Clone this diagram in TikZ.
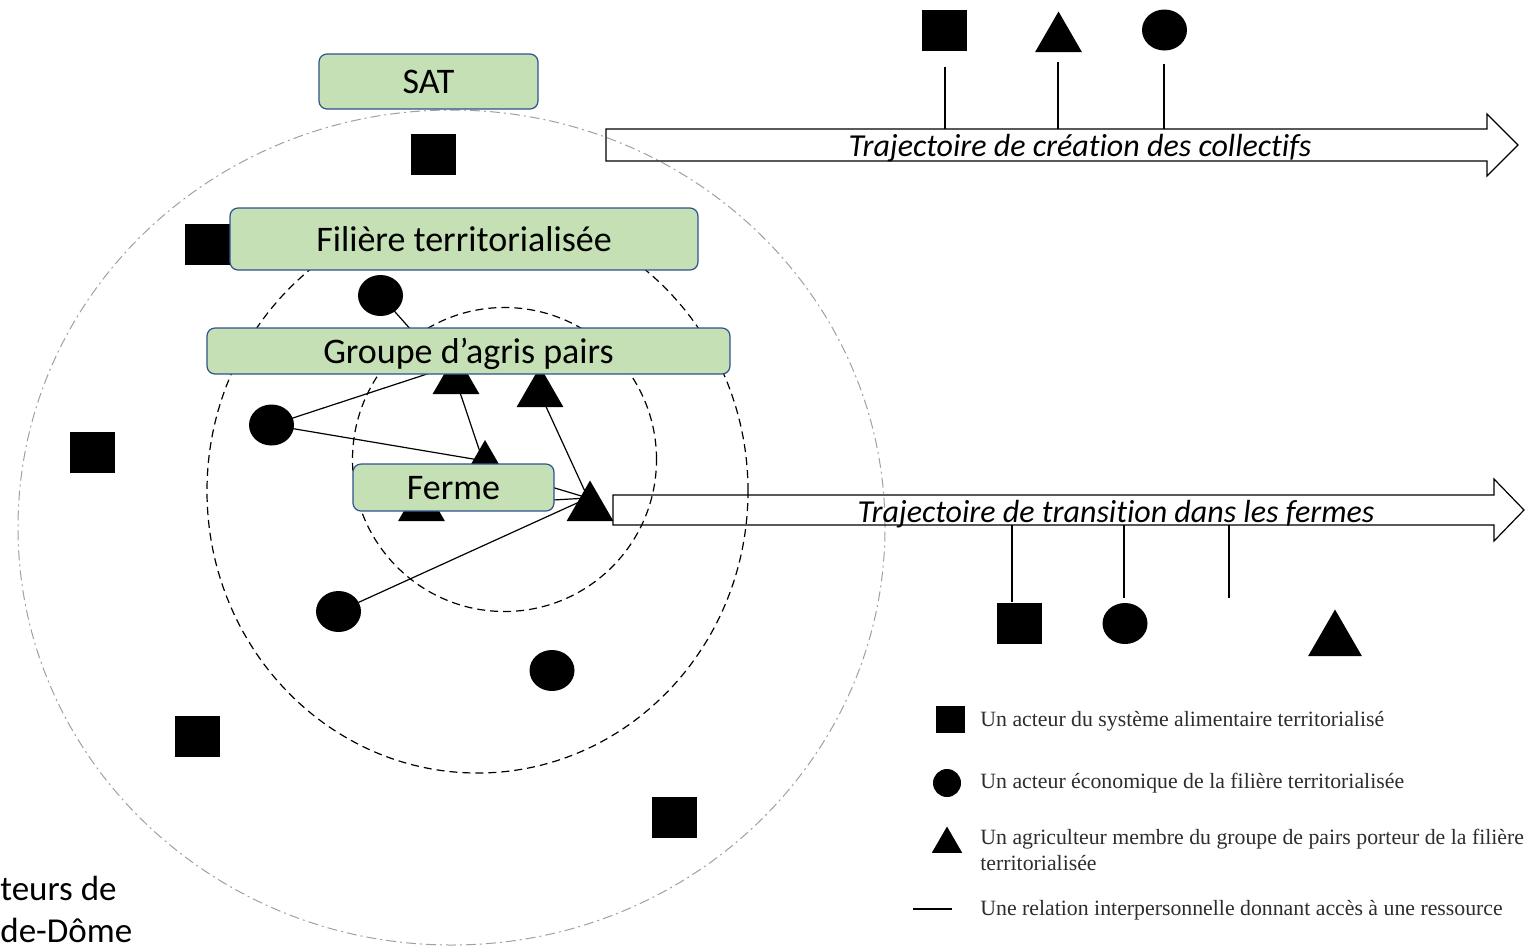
\documentclass[tikz,border=0pt]{standalone}
\usepackage{fontspec}
\setmainfont{Carlito}[Ligatures=NoCommon]
\newfontfamily\legendfont{Liberation Serif}
\usetikzlibrary{shapes.geometric,backgrounds}
\definecolor{boxfill}{RGB}{197,224,180}
\definecolor{boxline}{RGB}{47,82,143}
\definecolor{ringgray}{RGB}{160,160,160}
\definecolor{legendtext}{RGB}{45,45,45}
\tikzset{
  sq/.style={rectangle, fill=black, inner sep=0pt, minimum width=22.5pt, minimum height=20.5pt},
  circ/.style={ellipse, fill=black, inner sep=0pt, minimum width=22.5pt, minimum height=20.5pt},
  tri/.style={regular polygon, regular polygon sides=3, fill=black, inner sep=0pt, minimum size=27pt},
  greenbox/.style={rectangle, rounded corners=4pt, fill=boxfill, draw=boxline, line width=0.6pt, inner sep=0pt, text height=12pt, text depth=0pt, font=\fontsize{18pt}{21pt}\selectfont},
  rel/.style={draw=black, line width=0.6pt},
  ring/.style={draw=black, line width=0.6pt, dash pattern=on 4pt off 2.5pt},
  outerring/.style={draw=ringgray, line width=0.5pt, dash pattern=on 5pt off 2pt on 1pt off 2pt},
  traj/.style={draw=black, line width=0.6pt},
  trajtext/.style={font=\fontsize{16pt}{19pt}\selectfont\itshape, inner sep=0pt, text height=10pt, text depth=0pt},
  tick/.style={draw=black, line width=0.6pt},
  legtext/.style={font=\legendfont\fontsize{10.9pt}{13pt}\selectfont, text=legendtext, anchor=base west, inner sep=0pt, align=left},
  cornertext/.style={font=\fontsize{17.5pt}{22pt}\selectfont, anchor=base west, inner sep=0pt},
}
\begin{document}
\begin{tikzpicture}[x=0.5pt,y=-0.5pt]
\useasboundingbox (0,0) rectangle (1540,949);

% shapes of the network
\node[sq] (sq1) at (433.5,154) {};
\node[sq] (sq2) at (207.5,244.5) {};
\node[sq] (sq3) at (92,452) {};
\node[sq] (sq4) at (197,736) {};
\node[sq] (sq5) at (674.5,817) {};
\node[circ] (c1) at (380.5,295.5) {};
\node[circ] (c2) at (271.5,425) {};
\node[circ] (c3) at (338.5,611.5) {};
\node[circ] (c4) at (552,670.5) {};
\node[tri] (t1) at (456,380.5) {};
\node[tri] (t2) at (540,393.5) {};
\node[tri] (t3) at (485,467) {};
\node[tri] (t4) at (421.5,507.5) {};
\node[tri] (t5) at (590,507.5) {};

% rings and relations underneath
\begin{scope}[on background layer]
\path[outerring] (451.5,527.5) ellipse [x radius=216.75pt, y radius=208.75pt];
\path[ring] (477.5,491) ellipse [x radius=135.25pt, y radius=141pt];
\path[ring] (504.5,459.5) circle [radius=76pt];
\draw[rel] (c1.center) -- (t1.center);
\draw[rel] (c2.center) -- ([yshift=8pt]t1.center);
\draw[rel] (c2.center) -- ([yshift=3pt]t3.center);
\draw[rel] (t1.center) -- (t3.center);
\draw[rel] (t2.center) -- ([xshift=-1pt,yshift=4.75pt]t5.center);
\draw[rel] (t3.center) -- ([xshift=-1pt,yshift=4.75pt]t5.center);
\draw[rel] (t4.center) -- ([xshift=-1pt,yshift=4.75pt]t5.center);
\draw[rel] (c3.center) -- ([xshift=-1pt,yshift=4.75pt]t5.center);
\end{scope}

% collective boxes
\node[greenbox, minimum width=109.5pt, minimum height=27.5pt] (sat) at (428.5,81.5) {SAT};
\node[greenbox, minimum width=234pt, minimum height=31pt] (fil) at (464,239) {Filière territorialisée};
\node[greenbox, minimum width=261.5pt, minimum height=23pt] (grp) at (468.5,351) {Groupe d’agris pairs};
\node[greenbox, minimum width=100.5pt, minimum height=23.5pt] (ferme) at (453.5,487.5) {Ferme};

% trajectory arrows
\draw[traj] (606,129) -- (1487,129) -- (1487,114) -- (1518,145) -- (1487,176) -- (1487,161) -- (606,161) -- cycle;
\node[trajtext] (trA) at (1080,146) {Trajectoire de création des collectifs};
\draw[traj] (613,495) -- (1494,495) -- (1494,479) -- (1524,510) -- (1494,541) -- (1494,525) -- (613,525) -- cycle;
\node[trajtext] (trB) at (1116,512) {Trajectoire de transition dans les fermes};

% actors above the collective trajectory
\node[sq] (sqT) at (944.5,30.5) {};
\node[tri] (tT) at (1058.5,38.5) {};
\node[circ] (cT) at (1164.5,30) {};
\coordinate (a1s) at (945,67);   \coordinate (a1e) at (945,129);
\coordinate (a2s) at (1058,62);  \coordinate (a2e) at (1058,129);
\coordinate (a3s) at (1164,64);  \coordinate (a3e) at (1164,129);
\draw[tick] (a1s) -- (a1e);
\draw[tick] (a2s) -- (a2e);
\draw[tick] (a3s) -- (a3e);

% actors below the farm trajectory
\node[sq] (sqB) at (1019.5,623.5) {};
\node[circ] (cB) at (1125,623.5) {};
\node[tri, minimum size=31pt] (tB) at (1335,640.5) {};
\coordinate (b1s) at (1012,525); \coordinate (b1e) at (1012,602);
\coordinate (b2s) at (1124,525); \coordinate (b2e) at (1124,598);
\coordinate (b3s) at (1229,525); \coordinate (b3e) at (1229,598);
\draw[tick] (b1s) -- (b1e);
\draw[tick] (b2s) -- (b2e);
\draw[tick] (b3s) -- (b3e);

% legend
\node[sq, minimum width=14.5pt, minimum height=13.5pt] (lsq) at (950.5,719.5) {};
\node[circ, minimum width=14pt, minimum height=14pt] (lc) at (947,783) {};
\node[tri, minimum size=17.5pt] (lt) at (947,844) {};
\coordinate (lls) at (913,909); \coordinate (lle) at (952,909);
\draw[rel] (lls) -- (lle);
\node[legtext] (lg1) at (980,726) {Un acteur du système alimentaire territorialisé};
\node[legtext] (lg2) at (980,788) {Un acteur économique de la filière territorialisée};
\node[legtext] (lg3) at (980,844) {Un agriculteur membre du groupe de pairs porteur de la filière};
\node[legtext] (lg3b) at (980,870) {territorialisée};
\node[legtext] (lg4) at (980,915) {Une relation interpersonnelle donnant accès à une ressource};

% clipped caption at bottom left
\node[cornertext] (cap1) at (0,900) {teurs de};
\node[cornertext] (cap2) at (0,942) {de-Dôme};
\end{tikzpicture}
\end{document}
